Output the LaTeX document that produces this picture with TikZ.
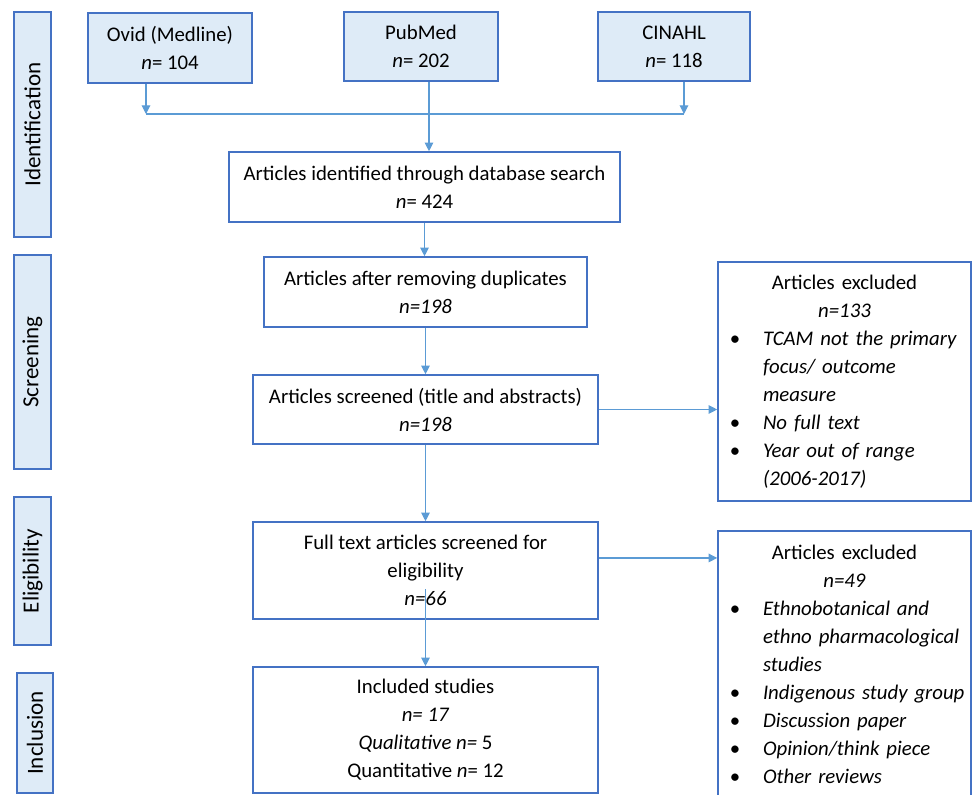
\documentclass[tikz,border=0pt]{standalone}
\usepackage{fontspec}
\setmainfont{Carlito}
\usetikzlibrary{arrows.meta}

\definecolor{boxblue}{RGB}{68,114,196}
\definecolor{arrowblue}{RGB}{91,155,213}
\definecolor{paleblue}{RGB}{222,235,247}

\newcommand{\exitem}[1]{\par\noindent\llap{\textbullet\hspace{17pt}}\textit{#1}}

\begin{document}
\begin{tikzpicture}[x=0.75pt,y=0.75pt,yscale=-1,xscale=1,
  flowbox/.style={draw=boxblue, line width=1.2pt, fill=white, align=center, inner sep=0pt, font=\fontsize{15.6}{21}\selectfont},
  srcbox/.style={flowbox, fill=paleblue},
  phasebox/.style={draw=boxblue, line width=1.2pt, fill=paleblue, rotate=90, inner sep=0pt, font=\fontsize{17.3}{21}\selectfont},
  exclbox/.style={draw=boxblue, line width=1.2pt, fill=white, inner sep=0pt, text width=189.75pt, font=\fontsize{15.6}{21}\selectfont},
  arr/.style={draw=arrowblue, line width=0.8pt, -{Triangle[length=6.5pt,width=6.5pt]}}
]
\useasboundingbox (0,0) rectangle (972,795);

%Shape: Rectangle (phases)
\node[phasebox, minimum width=168.75pt, minimum height=27.75pt] (idphase) at (32.5,124.5) {Identification};
\node[phasebox, minimum width=160.5pt, minimum height=27.75pt] (scphase) at (32.5,362) {Screening};
\node[phasebox, minimum width=111pt, minimum height=27.75pt] (elphase) at (32.5,571) {Eligibility};
\node[phasebox, minimum width=90pt, minimum height=27pt] (inphase) at (35,733) {Inclusion};

%Shape: Rectangle (databases)
\node[srcbox, minimum width=123pt, minimum height=52.5pt] (ovid) at (170,48) {Ovid (Medline)\\ \textit{n}= 104};
\node[srcbox, minimum width=115.5pt, minimum height=51.75pt] (pubmed) at (421,46.5) {PubMed\\ \textit{n}= 202};
\node[srcbox, minimum width=114pt, minimum height=51.75pt] (cinahl) at (674,46.5) {CINAHL\\ \textit{n}= 118};

%Shape: Rectangle (flow)
\node[flowbox, minimum width=293.25pt, minimum height=52.5pt] (ident) at (424.5,187) {Articles identified through database search\\ \textit{n}= 424};
\node[flowbox, minimum width=242.25pt, minimum height=52.5pt] (dedup) at (425.5,292) {Articles after removing duplicates\\ \textit{n=198}};
\node[flowbox, minimum width=258.75pt, minimum height=51.75pt] (screened) at (425.5,409.5) {Articles screened (title and abstracts)\\ \textit{n=198}};
\node[flowbox, minimum width=258.75pt, minimum height=72.75pt] (fulltext) at (425.5,570.5) {Full text articles screened for\\ eligibility\\ \textit{n=66}};
\node[flowbox, minimum width=258.75pt, minimum height=94.5pt] (included) at (425.5,730) {Included studies\\ \textit{n= 17}\\ \textit{Qualitative n=} 5\\ Quantitative \textit{n}= 12};

%Shape: Rectangle (exclusions)
\node[exclbox, minimum height=179.25pt] (excl1) at (844.5,381.5) {\centering Articles excluded\\ \textit{n=133}\par
  \raggedright\leftskip=33.75pt
  \exitem{TCAM not the primary\\ focus/ outcome\\ measure}
  \exitem{No full text}
  \exitem{Year out of range\\ (2006-2017)}\par};
\node[exclbox, minimum height=200.25pt] (excl2) at (844.5,664.5) {\centering Articles excluded\\ \textit{n=49}\par
  \raggedright\leftskip=33.75pt
  \exitem{Ethnobotanical and\\ ethno pharmacological\\ studies}
  \exitem{Indigenous study group}
  \exitem{Discussion paper}
  \exitem{Opinion/think piece}
  \exitem{Other reviews}\par};

%Straight Lines
\coordinate (mergeL) at (146,114);
\coordinate (mergeR) at (684,114);
\coordinate (pmout) at ([xshift=6pt]pubmed.south);
\coordinate (ftin) at ([yshift=-23pt]fulltext.south);
\coordinate (ftout) at ([yshift=-9.4pt]fulltext.east);
\draw[draw=arrowblue, line width=0.8pt] (mergeL) -- (mergeR);
\draw[arr] (ovid.south -| mergeL) -- (mergeL);
\draw[arr] (cinahl.south -| mergeR) -- (mergeR);
\draw[arr] (pmout) -- (pmout |- ident.north);
\draw[arr] (ident.south) -- (ident.south |- dedup.north);
\draw[arr] (dedup.south) -- (screened.north);
\draw[arr] (screened.south) -- (fulltext.north);
\draw[arr] (ftin) -- (included.north);
\draw[arr] (screened.east) -- (screened.east -| excl1.west);
\draw[arr] (ftout) -- (ftout -| excl2.west);

\end{tikzpicture}
\end{document}
